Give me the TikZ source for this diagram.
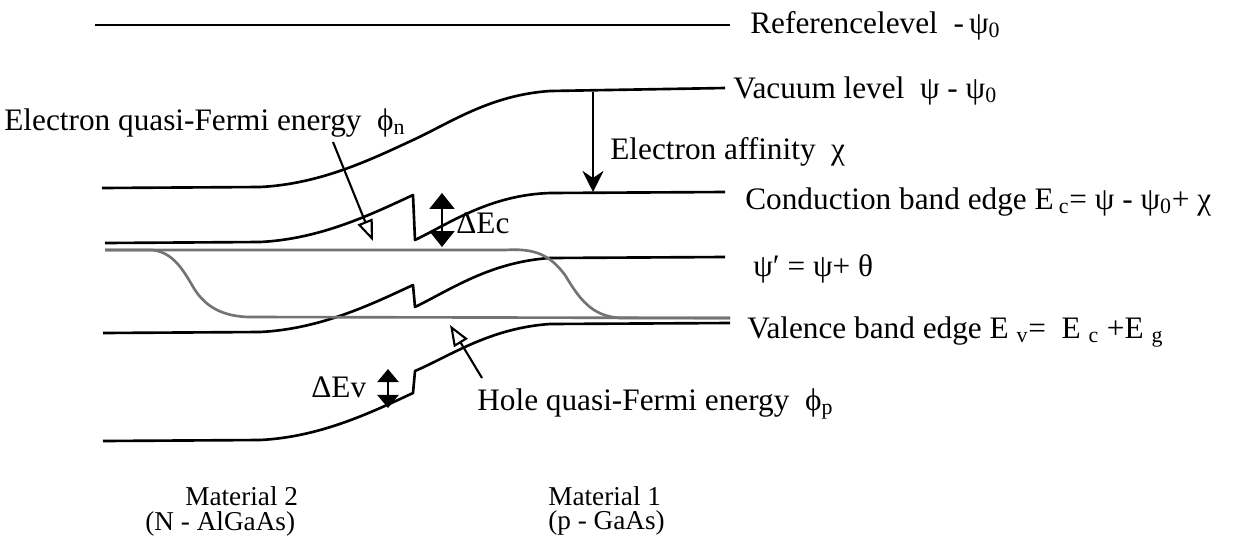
\documentclass[tikz,border=0pt]{standalone}
\usepackage{fontspec}
\setmainfont{Liberation Serif}
\usetikzlibrary{positioning,arrows.meta}

\tikzset{
  band/.style={line width=1.5pt, line join=round},
  qfermi/.style={line width=1.5pt, black!55},
  lbl/.style={anchor=base west, inner sep=0pt, font=\fontsize{17.8}{21}\selectfont},
  matlbl/.style={anchor=base west, inner sep=0pt, font=\fontsize{15.5}{18}\selectfont},
  ptr/.style={line width=1.2pt, -{Triangle[open,length=12pt,width=9pt]}},
  gapc/.style={line width=1.6pt, {Triangle[length=9pt,width=14pt]}-{Triangle[length=9pt,width=14pt]}},
  gapv/.style={line width=1.6pt, {Triangle[length=7.5pt,width=12pt]}-{Triangle[length=7.5pt,width=12pt]}},
}

\begin{document}
\begin{tikzpicture}[x=0.02cm, y=-0.02cm]
    \useasboundingbox (0,0) rectangle (1240,545);

    \draw[band] (95,25) -- (730,25);
    \draw[band] (102,188) -- (260,187) .. controls (320,184) and (370,160) .. (413,140)
        .. controls (450,123) and (490,95) .. (550,91) -- (725,88);
    \draw[band] (105,243) -- (260,242) .. controls (320,239) and (370,215) .. (413,195)
        -- (415,240) .. controls (450,223) and (490,195) .. (550,193) -- (725,192);
    \draw[band] (103,333) -- (260,332) .. controls (320,329) and (370,305) .. (413,285)
        -- (415,307) .. controls (450,290) and (490,262) .. (550,258) -- (725,257);
    \draw[band] (103,441) -- (260,440) .. controls (320,437) and (370,413) .. (413,393)
        -- (415,371) .. controls (450,356) and (490,328) .. (550,324) -- (730,323);

    \draw[qfermi] (105,250) -- (505,250) .. controls (535,248) and (550,255) .. (565,275)
        .. controls (580,300) and (592,316) .. (620,318) -- (730,318);
    \draw[qfermi] (105,250) -- (152,250) .. controls (172,252) and (182,268) .. (192,285)
        .. controls (203,305) and (220,316) .. (248,317) -- (730,318);

    \coordinate (vacpt) at (593,92);
    \coordinate (condpt) at (593,192);
    \coordinate (nfermi) at (333,142);
    \coordinate (nfermitip) at (373,241);
    \coordinate (pfermi) at (482,378);
    \coordinate (pfermitip) at (450,325);
    \coordinate (dEctop) at (442,193);
    \coordinate (dEcbot) at (442,247);
    \coordinate (dEvtop) at (388,369);
    \coordinate (dEvbot) at (388,408);

    \draw[line width=1.2pt, -{Stealth[length=12pt,width=12pt,inset=4pt]}] (vacpt) -- (condpt);
    \draw[ptr] (nfermi) -- (nfermitip);
    \draw[ptr] (pfermi) -- (pfermitip);
    \draw[gapc] (dEctop) -- (dEcbot);
    \draw[gapv] (dEvtop) -- (dEvbot);

    \node[lbl] (reflbl) at (750,33) {Referencelevel\ \ -\,ψ\textsubscript{0}};
    \node[lbl] (vaclbl) at (733,98) {Vacuum level\ \ ψ - ψ\textsubscript{0}};
    \node[lbl] (afflbl) at (610,159) {Electron affinity\ \ χ};
    \node[lbl] (condlbl) at (745,209) {Conduction band edge E\,\textsubscript{c}=\ ψ - ψ\textsubscript{0}+ χ};
    \node[lbl] (psilbl) at (753,276) {ψ′ = ψ+ θ};
    \node[lbl] (vallbl) at (747,338) {Valence band edge E \textsubscript{v}=\ \ E \textsubscript{c} +E \textsubscript{g}};
    \node[lbl] (nfermilbl) at (4,130) {Electron quasi-Fermi energy\ \ ϕ\textsubscript{n}};
    \node[lbl] (pfermilbl) at (477,410) {Hole quasi-Fermi energy\ \ ϕ\textsubscript{p}};
    \node[lbl] (dEclbl) at (456,233) {ΔEc};
    \node[lbl] (dEvlbl) at (311,397) {ΔEv};
    \node[matlbl] (mat2) at (185,505) {Material 2};
    \node[matlbl] (mat2b) at (145,530) {(N - AlGaAs)};
    \node[matlbl] (mat1) at (548,505) {Material 1};
    \node[matlbl, below=14pt of mat1.base west, anchor=base west] (mat1b) {(p - GaAs)};
\end{tikzpicture}
\end{document}
